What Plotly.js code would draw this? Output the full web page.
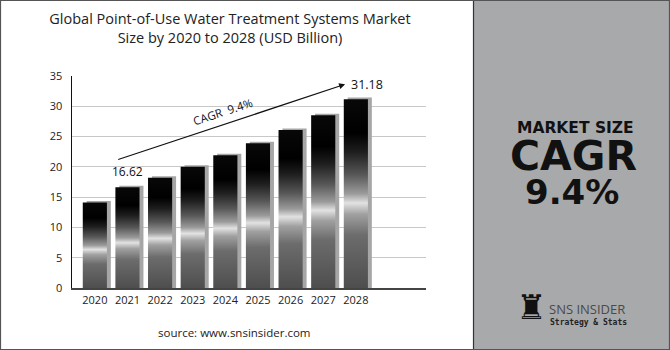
<!DOCTYPE html>
<html>
<head>
<meta charset="utf-8">
<script src="https://cdn.plot.ly/plotly-3.0.1.min.js"></script>
<style>
  html, body { margin: 0; padding: 0; background: #fff; }
  #chart { width: 670px; height: 350px; }
</style>
</head>
<body>
<div id="chart"></div>
<script>
// ---- data ----
const years = ['2020', '2021', '2022', '2023', '2024', '2025', '2026', '2027', '2028'];
const values = [14.1, 16.62, 18.2, 20.0, 21.9, 23.9, 26.1, 28.5, 31.18];
const yTicks = [0, 5, 10, 15, 20, 25, 30, 35];
const labelFirst = '16.62';
const labelLast = '31.18';
const cagrText = 'CAGR  9.4%';

// ---- styling ----
const halfW = 0.37;
const gradient = [
  [0.00, '#4e4e4e'],
  [0.28, '#6c6c6c'],
  [0.39, '#a0a0a0'],
  [0.45, '#e2e2e2'],
  [0.50, '#9a9a9a'],
  [0.60, '#575757'],
  [0.72, '#1e1e1e'],
  [0.82, '#000000'],
  [1.00, '#080808']
];
const idx = years.map((_, i) => i);

const traces = [];
// shadow bars
traces.push({
  type: 'bar',
  x: idx.map(i => i + 0.12),
  y: values.map(v => v + 0.25),
  width: 2 * halfW,
  marker: { color: '#a6a6a6', line: { width: 0 } },
  hoverinfo: 'skip'
});
// gradient bars
values.forEach((v, i) => {
  traces.push({
    type: 'scatter',
    mode: 'lines',
    x: [i - halfW, i + halfW, i + halfW, i - halfW, i - halfW],
    y: [0, 0, v, v, 0],
    fill: 'toself',
    fillcolor: '#333',
    fillgradient: { type: 'vertical', colorscale: gradient },
    line: { width: 0, color: 'rgba(0,0,0,0)' },
    hoverinfo: 'skip'
  });
});

// paper coordinate helpers (plot area px: x 72..426, y 76..288)
const L = 72, R = 426, T = 76, B = 288;
const px = p => (p - L) / (R - L);
const py = p => (B - p) / (B - T);

function paperText(x, y, text, font, extra) {
  return Object.assign({
    xref: 'paper', yref: 'paper', x: px(x), y: py(y), text: text,
    showarrow: false, xanchor: 'center', yanchor: 'middle', font: font
  }, extra || {});
}

const panelFont = (size) => ({ family: 'DejaVu Sans', size: size, color: '#111', weight: 'bold' });

const layout = {
  width: 670, height: 350,
  margin: { l: L, r: 670 - R, t: T, b: 350 - B },
  paper_bgcolor: '#ffffff',
  plot_bgcolor: '#ffffff',
  showlegend: false,
  barmode: 'overlay',
  title: {
    text: 'Global Point-of-Use Water Treatment Systems Market<br>Size by 2020 to 2028 (USD Billion)',
    font: { family: 'Open Sans', size: 14.5, color: '#222' },
    xref: 'paper', x: px(230), xanchor: 'center',
    yref: 'container', y: 1 - 24 / 350, yanchor: 'middle'
  },
  xaxis: {
    range: [-0.7, 10.15],
    tickmode: 'array', tickvals: idx, ticktext: years,
    showgrid: false, zeroline: false,
    showline: true, linecolor: '#444', linewidth: 2,
    ticks: '', ticklabelstandoff: 1,
    tickfont: { family: 'Open Sans', size: 11, color: '#222' },
    fixedrange: true
  },
  yaxis: {
    range: [0, 35],
    tickmode: 'array', tickvals: yTicks,
    showgrid: true, gridcolor: '#c8c8c8', gridwidth: 1,
    zeroline: false,
    showline: true, linecolor: '#111', linewidth: 1.5,
    ticks: '', ticklabelstandoff: 6,
    tickfont: { family: 'Open Sans', size: 11, color: '#222' },
    fixedrange: true
  },
  shapes: [
    // right panel
    { type: 'rect', xref: 'paper', yref: 'paper', layer: 'below',
      x0: px(473.5), x1: px(672), y0: py(352), y1: py(-2),
      fillcolor: '#a8a9ab', line: { width: 0 } },
    { type: 'line', xref: 'paper', yref: 'paper',
      x0: px(473.5), x1: px(473.5), y0: py(350), y1: py(0),
      line: { color: '#333', width: 1.2 } },
    // outer border
    { type: 'rect', xref: 'paper', yref: 'paper',
      x0: px(0.5), x1: px(669.5), y0: py(349.5), y1: py(0.5),
      line: { color: '#555', width: 1.2 }, fillcolor: 'rgba(0,0,0,0)' }
  ],
  annotations: [
    // CAGR arrow
    { xref: 'x', yref: 'y', x: 7.67, y: 33.63, ax: 0.67, ay: 21.13,
      axref: 'x', ayref: 'y', showarrow: true, arrowhead: 2, arrowsize: 1,
      arrowwidth: 1.2, arrowcolor: '#111', text: '' },
    { xref: 'x', yref: 'y', x: 3.93, y: 29.1, text: cagrText, showarrow: false,
      xanchor: 'center', yanchor: 'middle',
      textangle: -18, font: { family: 'Open Sans', size: 11.5, color: '#111' } },
    { xref: 'x', yref: 'y', x: 1, y: values[1] + 2.6, text: labelFirst, showarrow: false,
      xanchor: 'center', yanchor: 'middle',
      font: { family: 'Open Sans', size: 12, color: '#111' } },
    { xref: 'x', yref: 'y', x: 8.35, y: values[8] + 2.5, text: labelLast, showarrow: false,
      xanchor: 'center', yanchor: 'middle',
      font: { family: 'Open Sans', size: 12.5, color: '#111' } },
    // source
    paperText(234, 332, 'source: www.snsinsider.com', { family: 'Open Sans', size: 11.5, color: '#222' }),
    // right panel texts
    paperText(575, 127.5, 'MARKET SIZE', panelFont(15.5)),
    paperText(573, 156, 'CAGR', panelFont(41)),
    paperText(572, 191.5, '9.4%', panelFont(34)),
    // logo
    paperText(531, 307, '♜', { family: 'DejaVu Sans', size: 34, color: '#111' }),
    paperText(547, 309, 'SNS INSIDER', { family: 'Open Sans', size: 13, color: '#4a4a4a' }, { xanchor: 'left' }),
    paperText(548, 322, 'Strategy &amp; Stats', { family: 'DejaVu Sans Mono', size: 8, color: '#222', weight: 'bold' }, { xanchor: 'left' })
  ]
};

Plotly.newPlot('chart', traces, layout, { staticPlot: true, displayModeBar: false });
</script>
</body>
</html>
